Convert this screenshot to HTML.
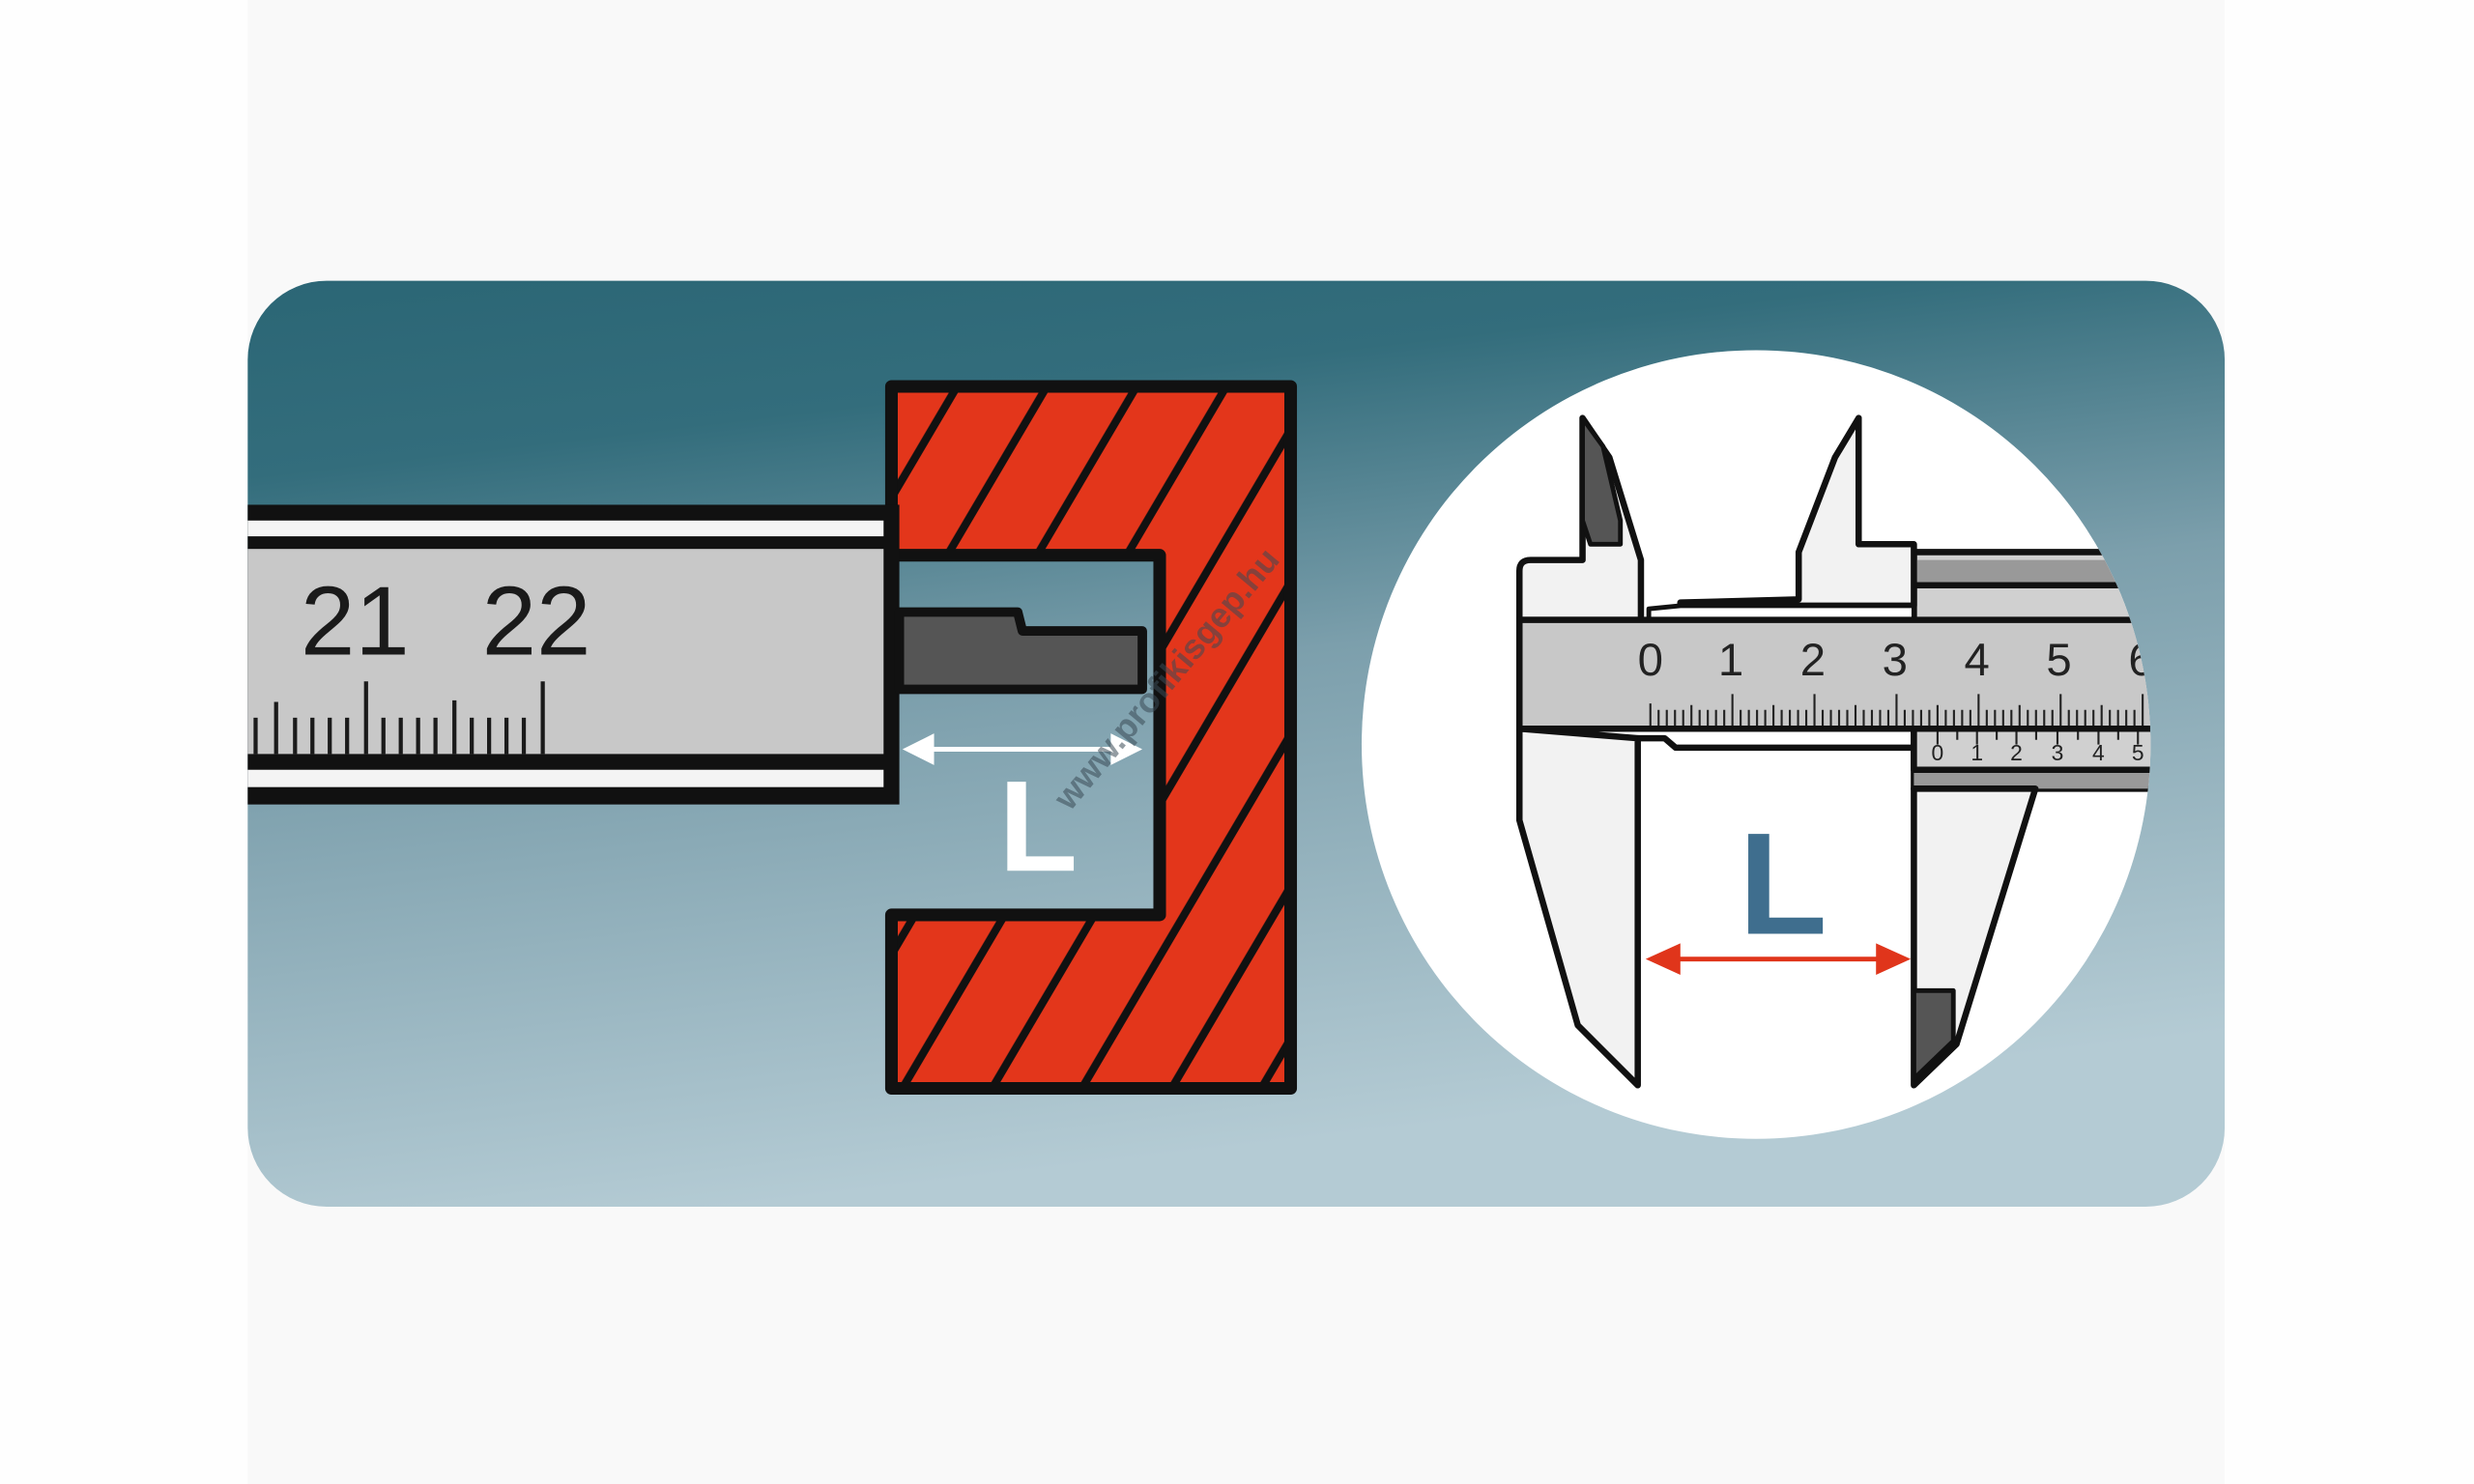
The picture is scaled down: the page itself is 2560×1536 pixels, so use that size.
<!DOCTYPE html>
<html><head><meta charset="utf-8"><style>
html,body{margin:0;padding:0;background:#fff;}
svg{display:block;}
</style></head><body>
<svg width="2560" height="1536" viewBox="0 0 1568 940.8" preserveAspectRatio="none" xmlns="http://www.w3.org/2000/svg">
<defs>
<linearGradient id="bg" x1="0" y1="0" x2="0.25" y2="1">
<stop offset="0" stop-color="#2b6675"/>
<stop offset="0.2" stop-color="#336d7c"/>
<stop offset="0.5" stop-color="#7c9fac"/>
<stop offset="1" stop-color="#b4cbd4"/>
</linearGradient>
<pattern id="hatch" width="49" height="20" patternUnits="userSpaceOnUse" patternTransform="rotate(30.5)">
<line x1="10" y1="-5" x2="10" y2="25" stroke="#111" stroke-width="5"/>
</pattern>
<clipPath id="cshape"><path d="M565,245 H818 V690 H565 V580 H735 V352 H565 Z"/></clipPath>
<clipPath id="circ"><circle cx="1113" cy="472" r="250"/></clipPath>
</defs>
<rect x="0" y="0" width="1568" height="941" fill="#fefefe"/>
<rect x="157" y="0" width="1253" height="941" fill="#f9f9f9"/>
<rect x="157" y="178" width="1253" height="587" rx="50" fill="url(#bg)"/>

<!-- red C shape -->
<path d="M565,245 H818 V690 H565 V580 H735 V352 H565 Z" fill="#e3361b"/>
<rect x="560" y="240" width="270" height="460" fill="url(#hatch)" clip-path="url(#cshape)"/>
<path d="M565,245 H818 V690 H565 V580 H735 V352 H565 Z" fill="none" stroke="#111" stroke-width="8" stroke-linejoin="round"/>

<!-- ruler -->
<rect x="157" y="320" width="413" height="190" fill="#111"/>
<rect x="157" y="330" width="403" height="10" fill="#f4f4f4"/>
<rect x="157" y="348" width="403" height="130" fill="#c8c8c8"/>
<rect x="157" y="488" width="403" height="11" fill="#f4f4f4"/>
<text x="225" y="415" font-family="Liberation Sans, sans-serif" font-size="62" fill="#1a1a1a" text-anchor="middle">21</text>
<text x="340" y="415" font-family="Liberation Sans, sans-serif" font-size="62" fill="#1a1a1a" text-anchor="middle">22</text>
<g stroke="#1a1a1a" stroke-width="2.6">
<line x1="162" y1="478" x2="162" y2="455"/><line x1="175" y1="478" x2="175" y2="445"/>
<line x1="187" y1="478" x2="187" y2="455"/><line x1="198" y1="478" x2="198" y2="455"/>
<line x1="209" y1="478" x2="209" y2="455"/><line x1="220" y1="478" x2="220" y2="455"/>
<line x1="232" y1="478" x2="232" y2="432"/><line x1="243" y1="478" x2="243" y2="455"/>
<line x1="254" y1="478" x2="254" y2="455"/><line x1="265" y1="478" x2="265" y2="455"/>
<line x1="276" y1="478" x2="276" y2="455"/><line x1="288" y1="478" x2="288" y2="444"/>
<line x1="299" y1="478" x2="299" y2="455"/><line x1="310" y1="478" x2="310" y2="455"/>
<line x1="321" y1="478" x2="321" y2="455"/><line x1="332" y1="478" x2="332" y2="455"/>
<line x1="344" y1="478" x2="344" y2="432"/>
</g>
<!-- jaw -->
<path d="M570,388 H645 L648,400 H724 V437 H570 Z" fill="#555" stroke="#111" stroke-width="6" stroke-linejoin="round"/>
<!-- white arrow -->
<line x1="585" y1="475" x2="710" y2="475" stroke="#fff" stroke-width="3"/>
<polygon points="572,475 592,465 592,485" fill="#fff"/>
<polygon points="724,475 704,465 704,485" fill="#fff"/>
<text x="658" y="552" font-family="Liberation Sans, sans-serif" font-weight="bold" font-size="82" fill="#fff" text-anchor="middle">L</text>
<text x="745" y="435" font-family="Liberation Sans, sans-serif" font-weight="bold" font-size="22" fill="#3a4a55" fill-opacity="0.55" text-anchor="middle" transform="rotate(-50 745 435)">www.profikisgep.hu</text>

<!-- circle -->
<circle cx="1113" cy="472" r="250" fill="#fff"/>
<g clip-path="url(#circ)" stroke="#111" stroke-width="4" stroke-linejoin="round">
<!-- slider body -->
<rect x="1213" y="350" width="170" height="150" fill="#d0d0d0"/>
<rect x="1213" y="355" width="170" height="14" fill="#999" stroke="none"/>
<line x1="1213" y1="371" x2="1383" y2="371"/>
<rect x="1213" y="488" width="170" height="12" fill="#999" stroke="none"/>
<!-- left fixed jaw body -->
<path d="M963,362 Q963,355 970,355 H1003 V335 L1003,265 L1020,290 L1040,355 V393 H963 Z" fill="#f2f2f2"/>
<path d="M1003,330 V265 L1016,283 L1027,330 V345 H1008 Z" fill="#555" stroke-width="3"/>
<path d="M963,462 V520 L1000,650 L1038,688 V468 Z" fill="#f2f2f2"/>
<!-- upper right jaw -->
<path d="M1140,380 V350 L1163,290 L1178,265 V345 H1213 V384 H1065 V382 Z" fill="#f2f2f2"/>
<path d="M1045,393 V386 L1065,384 H1213 V393 Z" fill="#fff" stroke-width="3"/>
<!-- lower right jaw -->
<path d="M1213,500 V688 L1240,662 L1290,500 Z" fill="#f2f2f2"/>
<path d="M1213,628 H1238 V660 L1213,684 Z" fill="#555" stroke-width="3"/>
<path d="M1038,468 H1055 L1062,474 H1213" fill="none"/>
<!-- beam -->
<rect x="963" y="393" width="420" height="69" fill="#c8c8c8"/>
<!-- vernier -->
<rect x="1213" y="462" width="170" height="26" fill="#d0d0d0"/>
</g>
<g clip-path="url(#circ)">
<g font-family="Liberation Sans, sans-serif" font-size="29" fill="#222" text-anchor="middle">
<text x="1046" y="428">0</text><text x="1097" y="428">1</text><text x="1149" y="428">2</text><text x="1201" y="428">3</text><text x="1253" y="428">4</text><text x="1305" y="428">5</text><text x="1357" y="428">6</text>
</g>
<g font-family="Liberation Sans, sans-serif" font-size="14" fill="#222" text-anchor="middle">
<text x="1228" y="482">0</text><text x="1253" y="482">1</text><text x="1278" y="482">2</text><text x="1304" y="482">3</text><text x="1330" y="482">4</text><text x="1355" y="482">5</text>
</g>
<path stroke="#222" stroke-width="1.3" d="M1046,460V446M1051.2,460V450M1056.4,460V450M1061.6,460V450M1066.8,460V450M1072,460V447M1077.2,460V450M1082.4,460V450M1087.6,460V450M1092.8,460V450M1098,460V440M1103.2,460V450M1108.4,460V450M1113.6,460V450M1118.8,460V450M1124,460V447M1129.2,460V450M1134.4,460V450M1139.6,460V450M1144.8,460V450M1150,460V440M1155.2,460V450M1160.4,460V450M1165.6,460V450M1170.8,460V450M1176,460V447M1181.2,460V450M1186.4,460V450M1191.6,460V450M1196.8,460V450M1202,460V440M1207.2,460V450M1212.4,460V450M1217.6,460V450M1222.8,460V450M1228,460V447M1233.2,460V450M1238.4,460V450M1243.6,460V450M1248.8,460V450M1254,460V440M1259.2,460V450M1264.4,460V450M1269.6,460V450M1274.8,460V450M1280,460V447M1285.2,460V450M1290.4,460V450M1295.6,460V450M1300.8,460V450M1306,460V440M1311.2,460V450M1316.4,460V450M1321.6,460V450M1326.8,460V450M1332,460V447M1337.2,460V450M1342.4,460V450M1347.6,460V450M1352.8,460V450M1358,460V440"/>
<path stroke="#222" stroke-width="1.3" d="M1228,464V472M1240.5,464V469M1253,464V472M1265.5,464V469M1278,464V472M1290.5,464V469M1304,464V472M1317,464V469M1330,464V472M1342.5,464V469M1355,464V472"/>
</g>
<!-- red arrow -->
<line x1="1058" y1="608" x2="1196" y2="608" stroke="#e0351b" stroke-width="3"/>
<polygon points="1043,608 1065,598 1065,618" fill="#e0351b"/>
<polygon points="1211,608 1189,598 1189,618" fill="#e0351b"/>
<text x="1130" y="592" font-family="Liberation Sans, sans-serif" font-weight="bold" font-size="92" fill="#3f6e8e" text-anchor="middle">L</text>
</svg>
</body></html>
